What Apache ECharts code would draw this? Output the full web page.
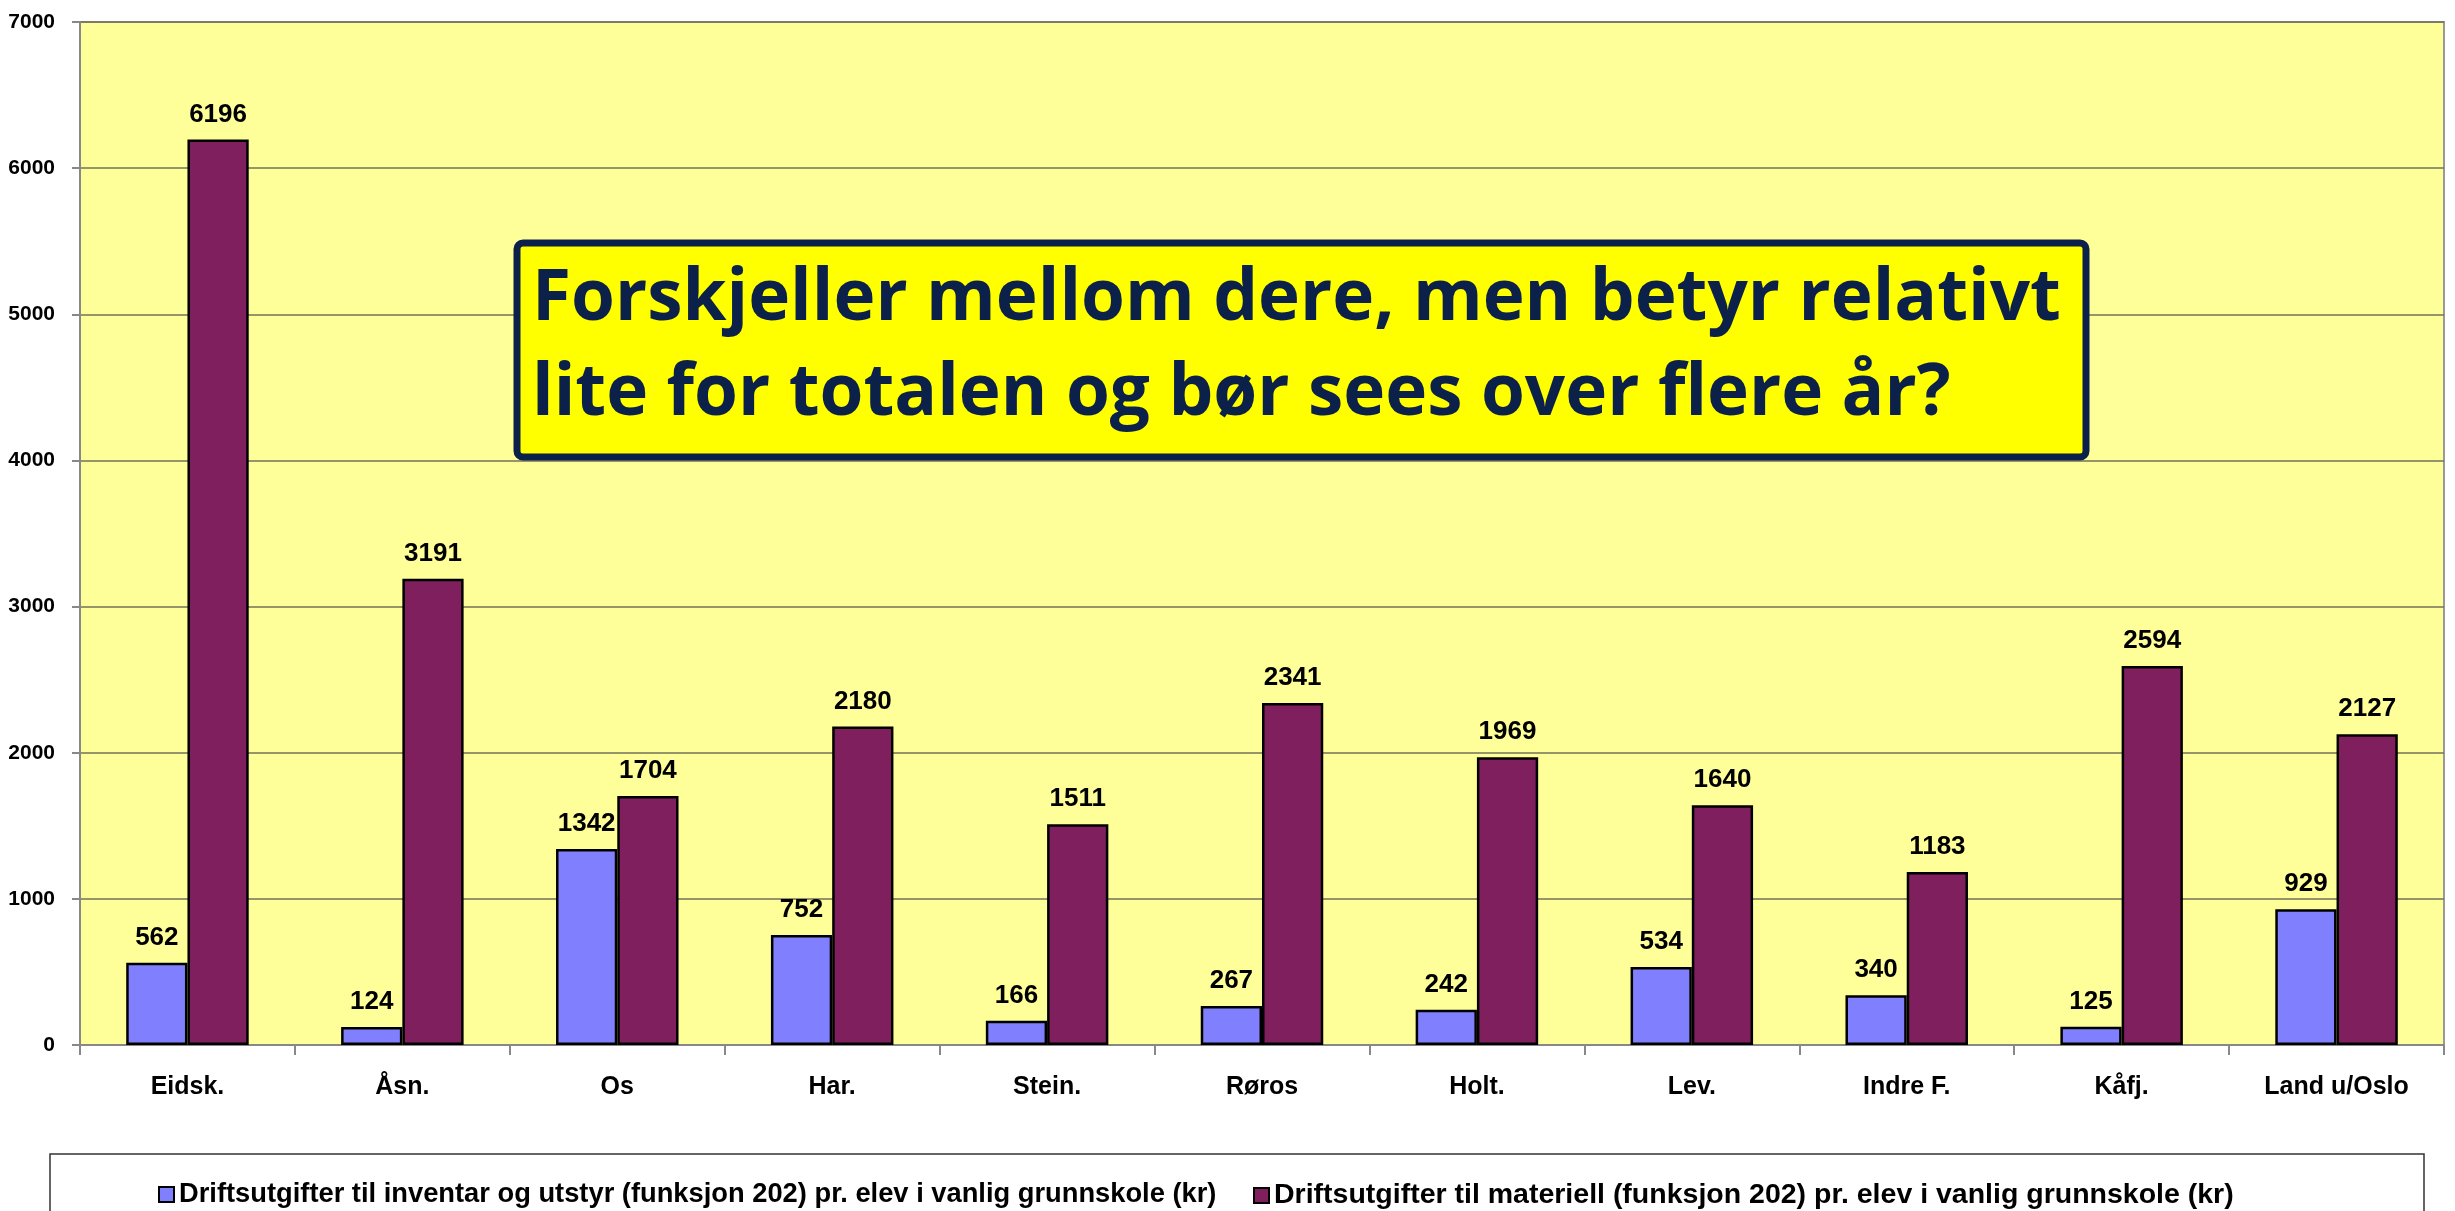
<!DOCTYPE html>
<html lang="no">
<head>
<meta charset="UTF-8" />
<title>Driftsutgifter</title>
<style>
  * { margin: 0; padding: 0; box-sizing: border-box; }
  html, body { width: 100%; height: 100%; background: #ffffff; }
  #chart { width: 2455px; height: 1211px; }
</style>
</head>
<body>
<div id="chart"></div>
<script src="https://cdn.jsdelivr.net/npm/echarts@6/dist/echarts.min.js"></script>
<script>
// data
var categories = ['Eidsk.', 'Åsn.', 'Os', 'Har.', 'Stein.', 'Røros', 'Holt.', 'Lev.', 'Indre F.', 'Kåfj.', 'Land u/Oslo'];
var inventar = [562, 124, 1342, 752, 166, 267, 242, 534, 340, 125, 929];
var materiell = [6196, 3191, 1704, 2180, 1511, 2341, 1969, 1640, 1183, 2594, 2127];
var seriesNames = [
  'Driftsutgifter til inventar og utstyr (funksjon 202) pr. elev i vanlig grunnskole (kr)',
  'Driftsutgifter til materiell (funksjon 202) pr. elev i vanlig grunnskole (kr)'
];
var yTicks = [0, 7000, 1000]; // min, max, interval
var note = ['Forskjeller mellom dere, men betyr relativt', 'lite for totalen og bør sees over flere år?'];

var narrow = "'Liberation Sans', Arial, sans-serif";

var chart = echarts.init(document.getElementById('chart'));

function barSeries(name, data, color) {
  return {
    name: name,
    type: 'bar',
    data: data,
    barGap: '0%',
    barCategoryGap: '43%',
    itemStyle: { color: color, borderColor: '#000', borderWidth: 2.5 },
    label: {
      show: true,
      position: 'top',
      distance: 12,
      color: '#000',
      fontFamily: narrow,
      fontWeight: 'bold',
      fontSize: 26
    }
  };
}

// one legend per item so each can sit where the original puts it
function legendAt(name, left, size) {
  return {
    data: [name],
    left: left,
    top: 1176,
    icon: 'rect',
    itemWidth: 15,
    itemHeight: 15,
    textStyle: { color: '#000', fontFamily: narrow, fontWeight: 'bold', fontSize: size }
  };
}

chart.setOption({
  animation: false,
  backgroundColor: '#ffffff',
  grid: {
    left: 80, right: 11, top: 22, bottom: 166,
    show: true,
    backgroundColor: '#ffff99',
    borderColor: '#999999',
    borderWidth: 2
  },
  legend: [legendAt(seriesNames[0], 153, 27.3), legendAt(seriesNames[1], 1248, 28.5)],
  xAxis: {
    type: 'category',
    data: categories,
    axisLine: { lineStyle: { color: '#888', width: 2 } },
    axisTick: { show: true, length: 10, lineStyle: { color: '#888', width: 2 } },
    axisLabel: {
      interval: 0, margin: 30, color: '#000',
      fontFamily: narrow, fontWeight: 'bold', fontSize: 25
    }
  },
  yAxis: {
    type: 'value',
    min: yTicks[0],
    max: yTicks[1],
    interval: yTicks[2],
    axisLine: { show: true, lineStyle: { color: '#888', width: 2 } },
    axisTick: { show: true, length: 8, lineStyle: { color: '#888', width: 2 } },
    splitLine: { lineStyle: { color: '#72725a', width: 1.5 } },
    axisLabel: {
      margin: 25, color: '#000',
      fontFamily: narrow, fontWeight: 'bold', fontSize: 21,
      formatter: function (v) { return String(v); }
    }
  },
  series: [
    barSeries(seriesNames[0], inventar, '#8080ff'),
    barSeries(seriesNames[1], materiell, '#7f1f5e')
  ],
  graphic: [
    {
      type: 'rect',
      z: -1,
      shape: { x: 50, y: 1154, width: 2374, height: 120 },
      style: { fill: '#ffffff', stroke: '#333', lineWidth: 1.5 }
    },
    {
      type: 'rect',
      z: 100,
      shape: { x: 517, y: 243, width: 1569, height: 214, r: 6 },
      style: { fill: '#ffff00', stroke: '#0c2149', lineWidth: 7 }
    },
    {
      type: 'text',
      z: 101,
      style: {
        text: note[0], x: 532, y: 300,
        fill: '#0c2149', font: 'bold 71px "Open Sans", "Noto Sans", sans-serif',
        verticalAlign: 'middle'
      }
    },
    {
      type: 'text',
      z: 101,
      style: {
        text: note[1], x: 532, y: 395,
        fill: '#0c2149', font: 'bold 71px "Open Sans", "Noto Sans", sans-serif',
        verticalAlign: 'middle'
      }
    }
  ]
});
</script>
</body>
</html>
